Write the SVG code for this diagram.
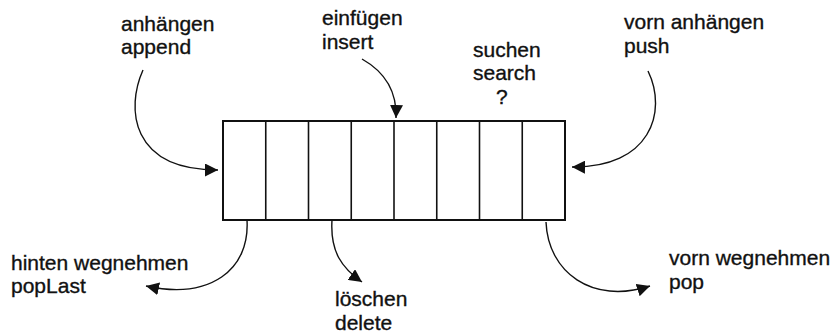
<svg xmlns="http://www.w3.org/2000/svg" width="835" height="333" viewBox="0 0 835 333">
  <style>
    text { font-family: "Liberation Sans", Arial, sans-serif; font-size: 21px; fill: #111; stroke: #111; stroke-width: 0.35; }
    .cell { fill: none; stroke: #111; stroke-width: 2; }
    .div { stroke: #111; stroke-width: 1.6; }
    .conn { fill: none; stroke: #111; stroke-width: 1.4; marker-end: url(#head); }
  </style>
  <defs>
    <marker id="head" markerUnits="userSpaceOnUse" markerWidth="13" markerHeight="13" viewBox="0 0 12 12" refX="12" refY="6" orient="auto">
      <path d="M0,0 L12,6 L0,12 z" fill="#111"/>
    </marker>
  </defs>

  <!-- list of eight cells -->
  <g id="list">
    <rect class="cell" x="223" y="121" width="342" height="99"/>
    <line class="div" x1="265.75" y1="121" x2="265.75" y2="220"/>
    <line class="div" x1="308.5" y1="121" x2="308.5" y2="220"/>
    <line class="div" x1="351.25" y1="121" x2="351.25" y2="220"/>
    <line class="div" x1="394" y1="121" x2="394" y2="220"/>
    <line class="div" x1="436.75" y1="121" x2="436.75" y2="220"/>
    <line class="div" x1="479.5" y1="121" x2="479.5" y2="220"/>
    <line class="div" x1="522.25" y1="121" x2="522.25" y2="220"/>
  </g>

  <!-- operation labels -->
  <g id="append">
    <text x="121" y="31">anhängen</text>
    <text x="121" y="54">append</text>
  </g>
  <g id="insert">
    <text x="322" y="25">einfügen</text>
    <text x="322" y="49">insert</text>
  </g>
  <g id="search">
    <text x="473" y="57">suchen</text>
    <text x="473" y="80">search</text>
    <text x="496" y="104">?</text>
  </g>
  <g id="push">
    <text x="624" y="29">vorn anhängen</text>
    <text x="624" y="53">push</text>
  </g>
  <g id="popLast">
    <text x="11" y="270">hinten wegnehmen</text>
    <text x="11" y="293">popLast</text>
  </g>
  <g id="delete">
    <text x="335" y="306">löschen</text>
    <text x="335" y="330">delete</text>
  </g>
  <g id="pop">
    <text x="669" y="265">vorn wegnehmen</text>
    <text x="669" y="289">pop</text>
  </g>

  <!-- curved arrows -->
  <g id="connectors">
    <path class="conn" d="M143,70 C126,108 130,170 218,170"/>
    <path class="conn" d="M362,59 C385,72 397,92 396,118"/>
    <path class="conn" d="M648,71 C668,112 650,168 572,167"/>
    <path class="conn" d="M247,220 C250,270 210,300 146,286"/>
    <path class="conn" d="M332,220 C330,252 342,268 362,282"/>
    <path class="conn" d="M546,222 C548,272 592,305 650,286"/>
  </g>
</svg>
